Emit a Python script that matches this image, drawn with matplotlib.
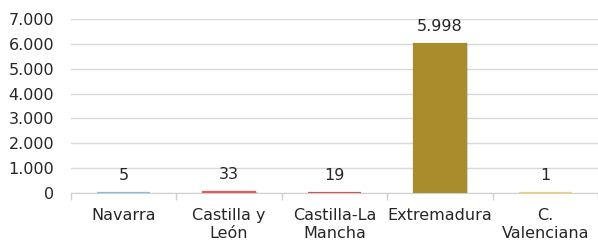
import matplotlib.pyplot as plt
import numpy as np

regions = ['Navarra', 'Castilla y\nLeón', 'Castilla-La\nMancha', 'Extremadura', 'C.\nValenciana']
values = [5, 33, 19, 5998, 1]
colors = ['#7ec3d9', '#e8585c', '#e04f52', '#a98d2c', '#f2d35e']

fig = plt.figure(figsize=(5.98, 2.47), dpi=100)
ax = fig.add_axes([71 / 598, 54 / 247, 1 - 71 / 598, (193 - 19) / 247])

x = np.arange(len(values))
# soft shadow under the bars
ax.bar(x + 0.015, values, width=0.51, color='#000000', alpha=0.12, zorder=2)
# edge keeps the tiny bars visible like in the original
ax.bar(x, values, width=0.5, color=colors, edgecolor=colors, linewidth=1.6, zorder=3)

for xi, v in zip(x, values):
    ax.annotate(f'{v:,}'.replace(',', '.'), (xi, v), xytext=(0, 7), textcoords='offset points',
                ha='center', va='bottom', fontsize=11.5, color='#262626')

ax.set_xlim(-0.5, 4.5)
ax.set_ylim(0, 7000)
yt = np.arange(0, 7001, 1000)
ax.set_yticks(yt)
ax.set_yticklabels([f'{t:,}'.replace(',', '.') for t in yt])
ax.set_xticks(x)
ax.set_xticklabels(regions)
ax.set_xticks(np.arange(-0.5, 5, 1), minor=True)
ax.tick_params(axis='x', which='major', length=0, pad=11, labelsize=11.5, labelcolor='#262626')
ax.tick_params(axis='x', which='minor', length=5, color='#d0d0d0', width=1)
ax.tick_params(axis='y', length=0, pad=12, labelsize=11.5, labelcolor='#262626')
for lab in ax.get_xticklabels():
    lab.set_linespacing(1.25)

ax.yaxis.grid(True, color='#d9d9d9', linewidth=1, zorder=0)
ax.set_axisbelow(True)
for s in ['top', 'right', 'left']:
    ax.spines[s].set_visible(False)
ax.spines['bottom'].set_color('#d0d0d0')

fig.savefig('out.png', dpi=100)
